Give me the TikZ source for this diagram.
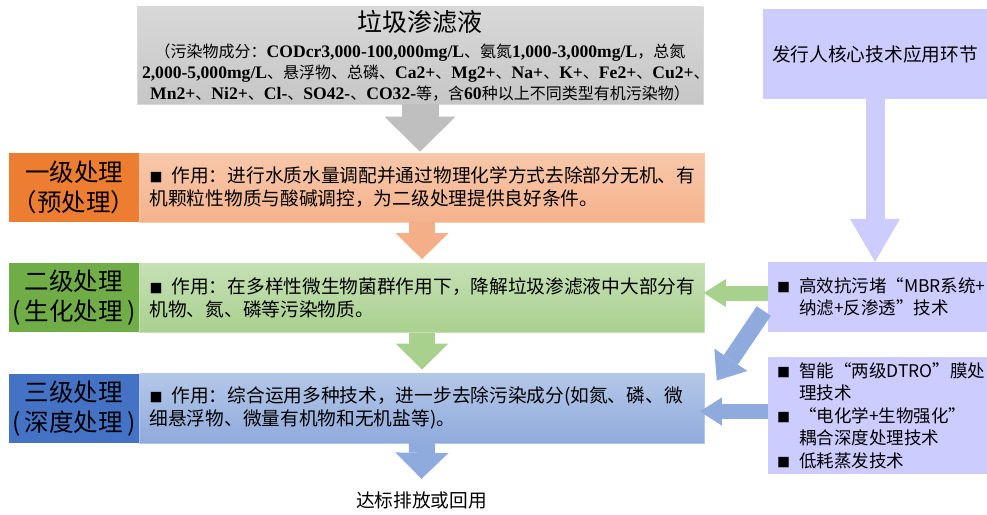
\documentclass[tikz,border=0pt]{standalone}
\usepackage{fontspec}
\setmainfont{Noto Sans CJK SC}
\newfontfamily\tnr[Scale=1.1]{Liberation Serif}
\usetikzlibrary{arrows.meta,positioning}

\definecolor{greytop}{HTML}{D8D8D8}
\definecolor{greybot}{HTML}{C6C6C6}
\definecolor{greyarr}{HTML}{BFBFBF}
\definecolor{orglbl}{HTML}{ED7D31}
\definecolor{orgtop}{HTML}{F8C8AA}
\definecolor{orgbot}{HTML}{F4B28C}
\definecolor{orgline}{HTML}{F8CBAD}
\definecolor{orgarr}{HTML}{F4AE88}
\definecolor{grnlbl}{HTML}{70AD47}
\definecolor{grntop}{HTML}{C5E0B4}
\definecolor{grnbot}{HTML}{A9D18E}
\definecolor{grnline}{HTML}{C5E0B4}
\definecolor{grnarr}{HTML}{A9D18E}
\definecolor{blulbl}{HTML}{4472C4}
\definecolor{blutop}{HTML}{B4C7E7}
\definecolor{blubot}{HTML}{8FAADC}
\definecolor{bluline}{HTML}{B4C7E7}
\definecolor{bluarr}{HTML}{8FAADC}
\definecolor{lav}{HTML}{CCCCFF}

\newcommand{\en}[1]{{\tnr\bfseries #1}}
\newcommand{\blt}{\makebox[22pt][l]{\fontsize{13}{13}\selectfont ■}}

\begin{document}
\begin{tikzpicture}[x=1pt,y=-1pt,
    lbl/.style={minimum width=130pt,minimum height=69pt,inner sep=0pt,align=center,
                font=\fontsize{24.5}{30}\selectfont},
    cbox/.style={minimum height=69pt,text width=545pt,inner xsep=10pt,align=left,
                 font=\fontsize{18.7}{23}\selectfont,line width=0.6pt},
    rbox/.style={fill=lav,text width=201pt,inner xsep=9pt,align=left,
                 font=\fontsize{17.5}{22.5}\selectfont},
    bigarr/.style={line width=37pt,-{Triangle[width=71pt,length=35pt,line width=0pt]}},
    midarr/.style={line width=26pt,-{Triangle[width=53pt,length=26pt,line width=0pt]}},
    lavarr/.style={line width=19pt,-{Triangle[width=50pt,length=43pt,line width=0pt]}},
    sidearr/.style={line width=15pt,-{Triangle[width=28pt,length=22pt,line width=0pt]}},
    diagarr/.style={line width=17pt,-{Triangle[width=40pt,length=25pt,line width=0pt]}}]

  \useasboundingbox (0,0) rectangle (987,514);

  \node[top color=greytop,bottom color=greybot,draw=greytop,text width=556pt,inner xsep=5pt,
        minimum height=93pt,align=center,font=\fontsize{16}{21}\selectfont] (src) at (420,55.5)
    {{\fontsize{25}{30}\selectfont 垃圾渗滤液}\\[5pt]
     （污染物成分：\en{CODcr3,000-100,000mg/L}、氨氮\en{1,000-3,000mg/L}，总氮\\
     \en{2,000-5,000mg/L}、悬浮物、总磷、\en{Ca2+}、\en{Mg2+}、\en{Na+}、\en{K+}、\en{Fe2+}、\en{Cu2+}、\\
     \en{Mn2+}、\en{Ni2+}、\en{Cl-}、\en{SO42-}、\en{CO32-}等，含\en{60}种以上不同类型有机污染物）};

  \node[lbl,fill=orglbl] (lbl1) at (74,187.5) {一级处理\\（预处理）};
  \node[cbox,top color=orgtop,bottom color=orgbot,draw=orgline,right=0pt of lbl1] (c1)
    {\blt 作用：进行水质水量调配并通过物理化学方式去除部分无机、有\\机颗粒性物质与酸碱调控，为二级处理提供良好条件。};
  \node[lbl,fill=grnlbl,below=41pt of lbl1] (lbl2) {二级处理\\(\,生化处理\,)};
  \node[cbox,top color=grntop,bottom color=grnbot,draw=grnline,right=0pt of lbl2] (c2)
    {\blt 作用：在多样性微生物菌群作用下，降解垃圾渗滤液中大部分有\\机物、氮、磷等污染物质。};
  \node[lbl,fill=blulbl,below=41pt of lbl2] (lbl3) {三级处理\\(\,深度处理\,)};
  \node[cbox,top color=blutop,bottom color=blubot,draw=bluline,right=0pt of lbl3] (c3)
    {\blt 作用：综合运用多种技术，进一步去除污染成分(如氮、磷、微\\细悬浮物、微量有机物和无机盐等)。};
  \node[font=\fontsize{18.7}{23}\selectfont] (out) at (421.5,500) {达标排放或回用};

  \node[fill=lav,minimum width=224pt,minimum height=90pt,font=\fontsize{18.7}{23}\selectfont]
    (core) at (875,54) {发行人核心技术应用环节};
  \node[rbox,minimum height=70pt] (mbr) at (877.5,297)
    {\blt 高效抗污堵“MBR系统+\\\hspace*{22pt}纳滤+反渗透”技术};
  \node[rbox,minimum height=117pt] (deep) at (877.5,415.5)
    {\blt 智能“两级DTRO”膜处\\\hspace*{22pt}理技术\\\blt “电化学+生物强化”\\\hspace*{22pt}耦合深度处理技术\\\blt 低耗蒸发技术};

  \coordinate (dtip) at ([xshift=12pt,yshift=-7pt]c3.north east);

  \path (src.south)  edge[bigarr,color=greyarr,shorten >=1pt] (src.south |- c1.north)
        (c1.south)   edge[midarr,color=orgarr,shorten >=4pt] (c1.south |- c2.north)
        (c2.south)   edge[midarr,color=grnarr,shorten >=4pt] (c2.south |- c3.north)
        (c3.south)   edge[midarr,color=bluarr] ([yshift=9pt]out.north)
        (core.south) edge[lavarr,color=lav] (core.south |- mbr.north)
        ([yshift=4pt]mbr.west)  edge[sidearr,color=grnarr,shorten >=-1pt] ([yshift=4pt]mbr.west -| c2.east)
        ([yshift=4pt]deep.west) edge[sidearr,color=bluarr,shorten >=-5pt] ([yshift=4pt]deep.west -| c3.east)
        ([xshift=-4pt,yshift=-14pt]mbr.west) edge[diagarr,color=bluarr] (dtip);
\end{tikzpicture}
\end{document}
